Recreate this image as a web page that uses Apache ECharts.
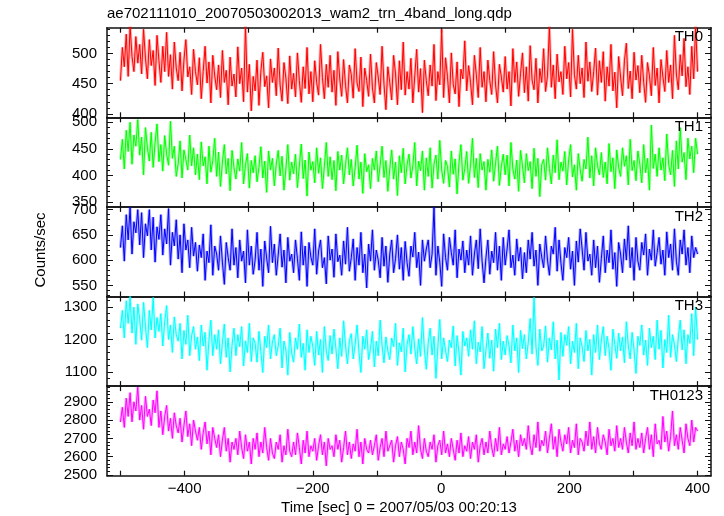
<!DOCTYPE html>
<html><head><meta charset="utf-8">
<script src="https://cdn.jsdelivr.net/npm/echarts@6/dist/echarts.min.js"></script>
<style>html,body{margin:0;padding:0;background:#fff}#c{width:724px;height:516px}</style>
</head><body><div id="c"></div><script>
const chartTitle = 'ae702111010_20070503002013_wam2_trn_4band_long.qdp';
const xTitle = 'Time [sec] 0 = 2007/05/03 00:20:13';
const yTitle = 'Counts/sec';
const bandNames = ['TH0', 'TH1', 'TH2', 'TH3', 'TH0123'];
const bandColors = ['#ff0000', '#00ff00', '#0000ff', '#00ffff', '#ff00ff'];
const tStart = -500, tStep = 3;

const th0 = [
455,510,478,532,462,545,495,470,528,484,
515,466,540,492,458,523,480,505,447,530,
488,452,512,470,535,462,498,441,519,476,
455,502,438,489,523,461,478,432,507,470,
448,493,425,470,512,451,486,418,497,463,
440,481,427,505,452,472,415,494,446,466,
428,511,450,476,420,545,436,482,405,462,
438,489,414,471,502,445,463,410,491,452,
476,430,509,448,421,485,459,417,496,441,
467,428,501,455,419,478,442,510,433,470,
420,488,452,431,515,460,425,482,444,497,
436,472,414,503,458,429,490,447,418,481,
465,426,508,451,437,494,412,476,455,429,
499,443,418,485,461,432,512,449,407,478,
452,423,497,466,415,488,440,519,431,470,
441,492,418,463,507,436,475,402,489,455,
430,481,446,515,422,470,448,540,427,493,
462,418,501,449,433,486,412,474,458,521,
438,480,452,415,497,465,427,510,444,470,
420,489,455,432,503,448,418,482,461,436,
495,441,470,413,508,452,486,429,467,501,
435,478,421,513,456,440,492,418,475,452,
508,437,463,545,444,481,425,499,453,470,
432,512,458,485,428,540,465,441,497,450,
476,427,519,454,486,437,470,509,431,488,
452,503,421,478,446,515,438,469,410,495,
461,430,488,517,442,471,425,502,456,480,
435,497,452,419,485,463,430,510,447,476,
418,490,461,437,505,452,481,425,530,466,
440,498,463,525,445,478,432,512,458,545,
470];
const th1 = [
430,468,412,485,445,500,421,476,455,505,
438,472,401,490,452,427,481,415,462,497,
426,458,408,475,440,419,502,432,455,398,
422,465,395,448,430,410,476,418,452,401,
440,392,463,418,435,384,455,406,428,470,
398,444,379,425,458,403,432,371,447,415,
393,431,408,462,384,420,441,376,428,405,
437,388,415,454,395,427,368,446,410,432,
380,421,447,399,436,372,412,458,391,425,
403,440,377,418,459,394,429,361,444,410,
426,386,452,404,433,375,417,462,398,435,
392,428,371,445,410,438,384,420,452,401,
430,380,414,457,393,425,366,441,407,420,
375,432,410,446,388,419,455,396,428,370,
412,448,393,425,362,437,405,451,384,420,
440,395,418,462,380,427,409,446,372,433,
398,452,376,421,438,393,466,410,385,428,
417,378,446,402,431,365,424,458,391,413,
445,385,420,470,396,432,377,441,410,426,
372,430,406,448,389,423,455,381,417,440,
401,438,380,462,412,393,429,370,447,418,
386,441,409,426,375,451,398,432,360,420,
430,391,452,413,384,438,405,467,392,425,
408,445,382,429,458,397,420,372,441,411,
389,430,412,472,395,437,380,452,418,401,
443,396,425,384,460,407,433,375,448,415,
398,452,417,437,382,468,409,428,390,446,
421,386,458,405,432,372,495,413,440,398,
452,410,433,390,478,420,401,447,379,465,
412,490,425,443,392,470,431,455,405,470,
440];
const th2 = [
625,668,598,690,640,705,612,676,654,700,
630,694,605,672,648,700,620,685,596,666,
641,690,610,662,632,702,590,655,628,680,
602,650,575,672,620,640,585,665,608,635,
578,630,605,652,560,618,595,670,570,628,
612,580,648,596,552,635,605,580,662,590,
625,565,640,598,618,555,660,590,628,572,
600,655,580,622,548,638,604,575,667,595,
632,570,610,652,586,620,555,645,598,612,
575,640,603,560,656,590,628,548,635,606,
590,662,572,618,640,585,605,553,648,600,
622,566,652,597,610,570,638,592,665,578,
605,642,560,625,590,655,575,612,545,632,
598,660,580,620,600,565,645,588,628,556,
612,640,575,603,650,582,625,560,637,595,
568,628,606,655,585,616,550,640,598,622,
640,585,612,705,570,628,596,548,652,605,
580,645,615,590,660,565,622,600,638,575,
620,590,648,570,612,640,583,662,598,555,
605,640,572,618,595,655,580,628,560,645,
590,622,660,585,610,570,642,598,625,563,
615,575,640,602,655,588,620,550,632,606,
585,648,600,570,628,612,665,578,640,594,
560,625,605,645,582,618,550,638,596,662,
622,580,655,598,612,570,640,585,628,556,
603,648,575,620,595,660,582,615,548,635,
612,575,642,600,668,585,625,560,645,598,
580,635,610,652,570,622,600,660,588,615,
645,592,620,570,656,605,632,580,662,598,
570,640,612,660,590,625,575,648,605,625,
612];
const th3 = [
1235,1290,1205,1320,1250,1333,1220,1300,1185,1310,
1262,1198,1315,1240,1175,1290,1230,1330,1205,1268,
1225,1280,1180,1255,1305,1200,1245,1160,1270,1215,
1195,1250,1140,1228,1185,1275,1150,1212,1240,1170,
1208,1135,1245,1180,1222,1105,1198,1260,1150,1215,
1170,1230,1125,1190,1248,1145,1205,1100,1182,1235,
1150,1215,1178,1240,1118,1196,1160,1250,1132,1205,
1188,1130,1225,1162,1098,1210,1175,1245,1140,1192,
1215,1150,1180,1235,1112,1195,1168,1090,1222,1158,
1130,1205,1170,1248,1145,1188,1105,1230,1160,1210,
1178,1120,1225,1152,1200,1098,1240,1165,1135,1212,
1155,1232,1172,1110,1205,1148,1258,1180,1125,1196,
1218,1140,1185,1245,1160,1098,1210,1170,1230,1138,
1172,1225,1115,1195,1150,1260,1182,1128,1208,1165,
1138,1205,1178,1250,1120,1190,1162,1235,1100,1185,
1215,1155,1240,1172,1125,1202,1148,1268,1170,1108,
1190,1235,1152,1210,1080,1178,1262,1140,1205,1165,
1132,1198,1175,1242,1118,1212,1158,1090,1225,1180,
1205,1148,1230,1170,1258,1125,1192,1162,1240,1110,
1168,1220,1142,1198,1102,1232,1175,1250,1138,1195,
1152,1212,1180,1128,1245,1165,1205,1098,1228,1172,
1215,1140,1190,1265,1155,1330,1178,1120,1232,1165,
1180,1242,1130,1205,1168,1255,1140,1198,1075,1222,
1148,1215,1182,1240,1125,1195,1160,1250,1110,1205,
1178,1132,1228,1165,1200,1090,1215,1160,1245,1138,
1198,1240,1150,1210,1172,1105,1232,1185,1142,1220,
1165,1208,1128,1255,1180,1140,1222,1168,1095,1210,
1182,1245,1152,1198,1120,1235,1175,1210,1138,1260,
1170,1228,1112,1200,1160,1275,1145,1215,1185,1132,
1205,1260,1168,1230,1125,1215,1188,1280,1150,1300,
1200];
const th0123 = [
2790,2870,2760,2920,2820,2950,2790,2900,2850,2980,
2800,2880,2750,2930,2820,2860,2770,2910,2840,2960,
2760,2850,2720,2820,2880,2740,2810,2700,2840,2770,
2730,2810,2680,2770,2850,2710,2780,2660,2800,2740,
2690,2760,2640,2730,2790,2670,2740,2610,2760,2700,
2650,2720,2600,2690,2760,2630,2700,2570,2680,2640,
2700,2610,2740,2650,2590,2720,2630,2680,2560,2700,
2640,2730,2600,2680,2620,2760,2650,2580,2700,2620,
2590,2680,2640,2720,2570,2660,2610,2750,2630,2600,
2680,2610,2730,2650,2560,2690,2620,2740,2600,2660,
2630,2700,2580,2660,2720,2610,2680,2550,2700,2640,
2660,2600,2720,2640,2690,2570,2650,2740,2610,2680,
2590,2670,2630,2750,2600,2680,2560,2700,2640,2620,
2690,2610,2660,2720,2580,2650,2700,2600,2740,2630,
2620,2690,2570,2660,2710,2600,2680,2640,2560,2700,
2650,2740,2610,2680,2620,2770,2640,2590,2700,2630,
2600,2680,2640,2720,2570,2660,2690,2610,2740,2620,
2670,2600,2700,2640,2580,2690,2620,2730,2600,2660,
2630,2710,2590,2680,2640,2720,2570,2660,2700,2610,
2680,2620,2740,2650,2600,2700,2630,2760,2610,2670,
2640,2710,2620,2680,2750,2630,2690,2600,2720,2660,
2700,2640,2770,2660,2610,2720,2650,2790,2630,2690,
2660,2740,2620,2700,2780,2640,2710,2600,2750,2680,
2630,2720,2670,2760,2620,2690,2650,2780,2610,2700,
2680,2630,2740,2660,2790,2640,2710,2620,2760,2670,
2640,2720,2680,2610,2750,2660,2700,2630,2770,2650,
2700,2640,2760,2680,2620,2730,2660,2790,2640,2700,
2650,2730,2620,2700,2760,2640,2720,2600,2780,2670,
2690,2640,2820,2680,2740,2630,2710,2850,2660,2720,
2640,2760,2690,2620,2780,2700,2660,2800,2680,2760,
2740];
const bandValues = [th0, th1, th2, th3, th0123];

const xRange = [-521, 421];
const xTickValues = [-500, -400, -300, -200, -100, 0, 100, 200, 300, 400];
const xLabelValues = [-400, -200, 0, 200, 400];
const yRanges = [[394.3, 542.7], [340.6, 509.4], [528, 705.4], [1056, 1333], [2496, 2986]];
const yMajorTicks = [[400, 450, 500], [350, 400, 450, 500], [550, 600, 650, 700], [1100, 1200, 1300], [2500, 2600, 2700, 2800, 2900]];
const yMinorSteps = [10, 10, 10, 20, 20];

const FONT = '"Liberation Sans", Arial, Helvetica, sans-serif';
const plotLeft = 107, plotRight = 711, plotTop = 27.7, panelH = 89.6;

const grids = [], xAxes = [], yAxes = [], series = [], graphics = [];
const lineCol = '#111';
const frameW = 1.5;
for (let k = 0; k < 5; k++) {
  const top = plotTop + k * panelH;
  grids.push({left: plotLeft, width: plotRight - plotLeft, top: top, height: panelH});
  const isLast = k === 4;
  const xBase = {
    type: 'value', gridIndex: k, min: xRange[0], max: xRange[1],
    axisLine: {show: true, onZero: false, lineStyle: {color: lineCol, width: frameW}},
    axisTick: {show: true, inside: true, length: 5, customValues: xTickValues, lineStyle: {color: lineCol, width: 1.2}},
    splitLine: {show: false}
  };
  xAxes.push(Object.assign({}, xBase, {position: 'bottom',
    axisLabel: {show: isLast, customValues: xLabelValues, color: '#000', fontFamily: FONT, fontSize: 15, margin: 6,
      formatter: v => String(v).replace('-', '\u2212')}}));
  xAxes.push(Object.assign({}, xBase, {position: 'top', axisLabel: {show: false}}));
  const yr = yRanges[k];
  const minor = [];
  const st = yMinorSteps[k];
  for (let v = Math.ceil(yr[0] / st) * st; v <= yr[1]; v += st) minor.push(v);
  const yBase = {type: 'value', gridIndex: k, min: yr[0], max: yr[1], splitLine: {show: false}};
  yAxes.push(Object.assign({}, yBase, {position: 'left',
    axisLine: {show: true, onZero: false, lineStyle: {color: lineCol, width: frameW}},
    axisTick: {show: true, inside: true, length: 6, customValues: yMajorTicks[k], lineStyle: {color: lineCol}},
    axisLabel: {show: true, customValues: yMajorTicks[k], color: '#000', fontFamily: FONT, fontSize: 15, margin: 10,
      formatter: v => String(v)}}));
  yAxes.push(Object.assign({}, yBase, {position: 'left', axisLine: {show: false, onZero: false},
    axisTick: {show: true, inside: true, length: 3, customValues: minor, lineStyle: {color: lineCol}},
    axisLabel: {show: false}}));
  yAxes.push(Object.assign({}, yBase, {position: 'right',
    axisLine: {show: true, onZero: false, lineStyle: {color: lineCol, width: frameW}},
    axisTick: {show: true, inside: true, length: 6, customValues: yMajorTicks[k], lineStyle: {color: lineCol}},
    axisLabel: {show: false}}));
  yAxes.push(Object.assign({}, yBase, {position: 'right', axisLine: {show: false, onZero: false},
    axisTick: {show: true, inside: true, length: 3, customValues: minor, lineStyle: {color: lineCol}},
    axisLabel: {show: false}}));

  const pts = bandValues[k].map((v, i) => [tStart + i * tStep, v]);
  // light halo imitating the error bars, then the data line itself
  series.push({
    type: 'line', xAxisIndex: 2 * k, yAxisIndex: 4 * k, showSymbol: false, symbol: 'none',
    clip: true, silent: true, animation: false, z: 1,
    lineStyle: {color: bandColors[k], width: 3, opacity: 0.3},
    data: pts
  });
  series.push({
    type: 'line', xAxisIndex: 2 * k, yAxisIndex: 4 * k, showSymbol: false, symbol: 'none',
    clip: true, silent: true, animation: false, z: 2,
    lineStyle: {color: bandColors[k], width: 1},
    data: pts
  });
  graphics.push({type: 'text', z: 100, style: {text: bandNames[k], x: 703, y: top + 2, textAlign: 'right', textVerticalAlign: 'top',
    font: '15px ' + FONT, fill: '#000'}});
}
graphics.push({type: 'text', style: {text: chartTitle, x: 107, y: 6, textAlign: 'left', textVerticalAlign: 'top', font: '15px ' + FONT, fill: '#000'}});
graphics.push({type: 'text', style: {text: xTitle, x: 399, y: 508, textAlign: 'center', textVerticalAlign: 'middle', font: '15px ' + FONT, fill: '#000'}});
graphics.push({type: 'text', rotation: Math.PI / 2, x: 41, y: 250, style: {text: yTitle, x: 0, y: 0, textAlign: 'center', textVerticalAlign: 'middle', font: '15px ' + FONT, fill: '#000'}});

const chart = echarts.init(document.getElementById('c'), null, {renderer: 'canvas'});
chart.setOption({
  animation: false, backgroundColor: '#fff',
  grid: grids, xAxis: xAxes, yAxis: yAxes, series: series, graphic: graphics
});
</script></body></html>
